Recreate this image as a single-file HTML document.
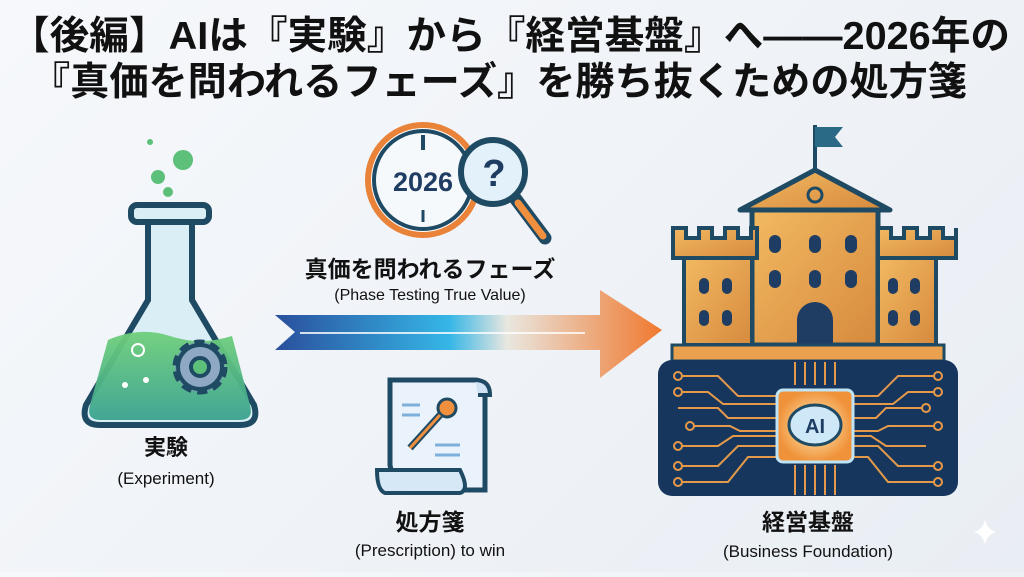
<!DOCTYPE html>
<html><head><meta charset="utf-8"><style>
html,body{margin:0;padding:0}
body{width:1024px;height:572px;overflow:hidden;background:linear-gradient(135deg,#f6f8fb,#e9eef4);font-family:"Liberation Sans","Noto Sans CJK JP",sans-serif}
svg text{font-family:"Liberation Sans","Noto Sans CJK JP",sans-serif}
</style></head><body>
<svg width="1024" height="572" viewBox="0 0 1024 572" xmlns="http://www.w3.org/2000/svg">
<defs>
<linearGradient id="arr" x1="0" x2="1"><stop offset="0" stop-color="#2a4f9c"/><stop offset="0.45" stop-color="#35b6e6"/><stop offset="0.6" stop-color="#e9e7e0"/><stop offset="1" stop-color="#f0782e"/></linearGradient>
<linearGradient id="liq" x1="0" y1="0" x2="0" y2="1"><stop offset="0" stop-color="#6fcf7a"/><stop offset="1" stop-color="#3aa28f"/></linearGradient>
<linearGradient id="gold" x1="0" y1="0" x2="1" y2="1"><stop offset="0" stop-color="#f2b961"/><stop offset="1" stop-color="#d68a3e"/></linearGradient>
<radialGradient id="chip"><stop offset="0" stop-color="#fff3c0"/><stop offset="1" stop-color="#f0923a"/></radialGradient>
</defs>
<text x="510" y="49" text-anchor="middle" font-size="39" font-weight="bold" fill="#111" textLength="1000" lengthAdjust="spacingAndGlyphs">【後編】AIは『実験』から『経営基盤』へ――2026年の</text>
<text x="499" y="95" text-anchor="middle" font-size="39" font-weight="bold" fill="#111" textLength="936" lengthAdjust="spacingAndGlyphs">『真価を問われるフェーズ』を勝ち抜くための処方箋</text>

<!-- flask -->
<circle cx="183" cy="160" r="10" fill="#5cc07a"/><circle cx="158" cy="177" r="7" fill="#5cc07a"/><circle cx="168" cy="192" r="5" fill="#5cc07a"/><circle cx="150" cy="142" r="3" fill="#5cc07a"/>
<path d="M148 222 L148 300 L86 405 Q80 425 100 425 L240 425 Q260 425 254 405 L192 300 L192 222 Z" fill="#d9eef5" stroke="#1f4a63" stroke-width="6"/>
<path d="M108 340 Q140 326 170 336 T232 336 L250 405 Q254 420 240 420 L100 420 Q86 420 90 405 Z" fill="url(#liq)" opacity="0.95"/>
<rect x="131" y="205" width="78" height="17" rx="6" fill="#d9eef5" stroke="#1f4a63" stroke-width="6"/>
<circle cx="200" cy="367" r="25" fill="#7b9ab8" stroke="#1f4a63" stroke-width="5" stroke-dasharray="10 6"/>
<circle cx="200" cy="367" r="22" fill="#8fa9c4" stroke="#1f4a63" stroke-width="4"/>
<circle cx="200" cy="367" r="9" fill="#5cc07a" stroke="#1f4a63" stroke-width="4"/>
<circle cx="138" cy="350" r="6" fill="none" stroke="#fff" stroke-width="2"/><circle cx="146" cy="380" r="3" fill="#fff"/><circle cx="125" cy="385" r="3" fill="#fff"/>
<text x="166" y="455" text-anchor="middle" font-size="22" font-weight="bold" fill="#111">実験</text>
<text x="166" y="484" text-anchor="middle" font-size="17" fill="#111">(Experiment)</text>

<!-- clock -->
<circle cx="423" cy="180" r="55" fill="#fff" stroke="#e9833a" stroke-width="6"/>
<circle cx="423" cy="180" r="49" fill="#f6f9fc" stroke="#1f4a63" stroke-width="4"/>
<line x1="423" y1="135" x2="423" y2="150" stroke="#1f4a63" stroke-width="4"/>
<line x1="423" y1="210" x2="423" y2="222" stroke="#1f4a63" stroke-width="3"/>
<text x="423" y="191" text-anchor="middle" font-size="27" font-weight="bold" fill="#1f3d63">2026</text>
<line x1="515" y1="198" x2="545" y2="238" stroke="#1f4a63" stroke-width="13" stroke-linecap="round"/>
<line x1="518" y1="203" x2="543" y2="236" stroke="#f0903e" stroke-width="7" stroke-linecap="round"/>
<circle cx="493" cy="172" r="32" fill="#e3f1fa" stroke="#1f4a63" stroke-width="6"/>
<text x="494" y="186" text-anchor="middle" font-size="38" font-weight="bold" fill="#1f3d63">?</text>
<text x="430" y="277" text-anchor="middle" font-size="23" font-weight="bold" fill="#111">真価を問われるフェーズ</text>
<text x="430" y="300" text-anchor="middle" font-size="16" fill="#111">(Phase Testing True Value)</text>

<!-- arrow -->
<path d="M275 315 L600 315 L600 290 L662 330 L600 378 L600 350 L275 350 L295 332 Z" fill="url(#arr)"/>
<line x1="300" y1="333" x2="585" y2="333" stroke="#fff" stroke-width="2" opacity="0.8"/>

<!-- scroll -->
<path d="M390 380 L475 380 Q485 380 485 392 L485 490 L395 490 L390 465 Z" fill="#eaf3fb" stroke="#1f4a63" stroke-width="5"/>
<path d="M475 380 Q490 380 490 395 L478 395" fill="#cfe3f3" stroke="#1f4a63" stroke-width="4"/>
<path d="M377 470 L460 470 Q470 490 460 493 L385 493 Q377 490 377 470 Z" fill="#d6e8f5" stroke="#1f4a63" stroke-width="4"/>
<line x1="402" y1="405" x2="420" y2="405" stroke="#7fb0dc" stroke-width="3"/><line x1="402" y1="415" x2="420" y2="415" stroke="#7fb0dc" stroke-width="3"/><line x1="435" y1="445" x2="460" y2="445" stroke="#7fb0dc" stroke-width="3"/><line x1="435" y1="455" x2="460" y2="455" stroke="#7fb0dc" stroke-width="3"/>
<circle cx="447" cy="408" r="9" fill="#f0903e" stroke="#1f4a63" stroke-width="3"/>
<line x1="440" y1="415" x2="410" y2="448" stroke="#1f4a63" stroke-width="7"/><line x1="440" y1="415" x2="410" y2="448" stroke="#f0903e" stroke-width="3"/>
<text x="430" y="530" text-anchor="middle" font-size="23" font-weight="bold" fill="#111">処方箋</text>
<text x="430" y="556" text-anchor="middle" font-size="17" fill="#111">(Prescription) to win</text>

<!-- castle -->
<line x1="815" y1="125" x2="815" y2="175" stroke="#1f4a63" stroke-width="4"/>
<path d="M815 127 L843 127 L835 137 L843 147 L815 147 Z" fill="#2a6a86"/>
<path d="M740 210 L815 170 L890 210 Z" fill="url(#gold)" stroke="#1f4a63" stroke-width="5" stroke-linejoin="round"/>
<circle cx="815" cy="195" r="7" fill="none" stroke="#1f4a63" stroke-width="3"/>
<rect x="752" y="210" width="126" height="135" fill="url(#gold)" stroke="#1f4a63" stroke-width="5"/>
<path d="M673 228 h13 v10 h13 v-10 h13 v10 h13 v-10 h13 v10 h13 v-10 h6 v30 h-84 Z" fill="url(#gold)" stroke="#1f4a63" stroke-width="4"/>
<rect x="684" y="258" width="68" height="87" fill="url(#gold)" stroke="#1f4a63" stroke-width="4"/>
<path d="M878 228 h13 v10 h13 v-10 h13 v10 h13 v-10 h13 v10 h13 v-10 v30 h-78 Z" fill="url(#gold)" stroke="#1f4a63" stroke-width="4"/>
<rect x="878" y="258" width="58" height="87" fill="url(#gold)" stroke="#1f4a63" stroke-width="4"/>
<g fill="#1f3d63">
<rect x="769" y="235" width="12" height="18" rx="6"/><rect x="809" y="235" width="12" height="18" rx="6"/><rect x="845" y="235" width="12" height="18" rx="6"/>
<rect x="769" y="270" width="12" height="18" rx="6"/><rect x="809" y="270" width="12" height="18" rx="6"/><rect x="845" y="270" width="12" height="18" rx="6"/>
<path d="M797 345 v-25 a18 18 0 0 1 36 0 v25 Z"/>
<rect x="699" y="278" width="10" height="16" rx="5"/><rect x="722" y="278" width="10" height="16" rx="5"/><rect x="699" y="310" width="10" height="16" rx="5"/><rect x="722" y="310" width="10" height="16" rx="5"/>
<rect x="888" y="278" width="10" height="16" rx="5"/><rect x="910" y="278" width="10" height="16" rx="5"/><rect x="888" y="310" width="10" height="16" rx="5"/><rect x="910" y="310" width="10" height="16" rx="5"/>
</g>
<rect x="672" y="345" width="272" height="16" fill="#e9a04f" stroke="#1f4a63" stroke-width="3"/>
<rect x="658" y="360" width="300" height="136" rx="14" fill="#17365e"/>
<g stroke="#e59a4a" stroke-width="2" fill="none">
<path d="M678 376 h40 l20 20 h40"/><path d="M678 392 h30 l15 12 h55"/><path d="M678 408 h40 l10 10 h50"/><path d="M690 426 h40 l10 5 h38"/><path d="M678 446 h40 l15 -10 h45"/><path d="M678 466 h40 l20 -20 h40"/><path d="M678 482 h50 l20 -25 h30"/>
<path d="M938 376 h-40 l-20 20 h-40"/><path d="M938 392 h-30 l-15 12 h-55"/><path d="M926 408 h-40 l-10 10 h-38"/><path d="M938 426 h-50 l-10 5 h-40"/><path d="M926 446 h-40 l-15 -10 h-33"/><path d="M938 466 h-40 l-20 -20 h-40"/><path d="M938 482 h-50 l-20 -25 h-30"/>
<path d="M795 362 v23 M805 362 v23 M815 362 v23 M825 362 v23 M835 362 v23 M795 465 v30 M805 465 v30 M815 465 v30 M825 465 v30 M835 465 v30"/>
</g>
<g fill="#17365e" stroke="#e59a4a" stroke-width="2"><circle cx="678" cy="376" r="4"/><circle cx="678" cy="392" r="4"/><circle cx="690" cy="426" r="4"/><circle cx="678" cy="446" r="4"/><circle cx="678" cy="466" r="4"/><circle cx="678" cy="482" r="4"/><circle cx="938" cy="376" r="4"/><circle cx="938" cy="392" r="4"/><circle cx="926" cy="408" r="4"/><circle cx="938" cy="426" r="4"/><circle cx="938" cy="466" r="4"/><circle cx="938" cy="482" r="4"/></g>
<rect x="777" y="390" width="76" height="72" rx="6" fill="url(#chip)" stroke="#bfe4f5" stroke-width="3"/>
<ellipse cx="815" cy="425" rx="26" ry="20" fill="#cfe8f7" stroke="#1f4a63" stroke-width="3"/>
<text x="815" y="433" text-anchor="middle" font-size="20" font-weight="bold" fill="#1f3d63">AI</text>
<text x="808" y="530" text-anchor="middle" font-size="23" font-weight="bold" fill="#111">経営基盤</text>
<text x="808" y="557" text-anchor="middle" font-size="17" fill="#111">(Business Foundation)</text>
<path d="M985 520 Q988 530 996 532 Q988 534 985 544 Q982 534 974 532 Q982 530 985 520 Z" fill="#fff"/>
</svg>
</body></html>
